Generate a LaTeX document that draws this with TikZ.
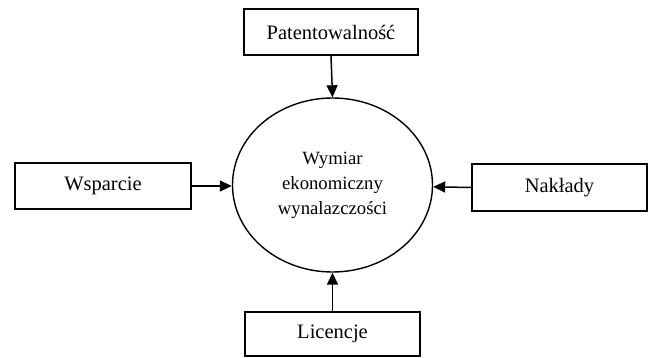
\documentclass[tikz,border=0pt]{standalone}
\usepackage{fontspec}
\setmainfont{Liberation Serif}
\usetikzlibrary{arrows.meta,shapes.geometric}
\begin{document}
\begin{tikzpicture}[x=1pt,y=-1pt,
  box/.style={draw,line width=1.4pt,font=\fontsize{20.5}{24}\selectfont,inner sep=0pt},
  conn/.style={line width=1.5pt,-{Triangle[length=12pt,width=11pt]}}]
\useasboundingbox (0,0) rectangle (650,358);
\node[box,minimum width=174pt,minimum height=46pt] (top) at (331,32) {Patentowalność};
\node[box,minimum width=176pt,minimum height=46pt] (left) at (103,186) {Wsparcie};
\node[box,minimum width=175pt,minimum height=47pt] (right) at (559.5,187.5) {Nakłady};
\node[box,minimum width=175pt,minimum height=44pt] (bottom) at (332.5,334) {Licencje};
\node[draw,ellipse,line width=1.4pt,minimum width=200pt,minimum height=174pt,inner sep=0pt,
  align=center,font=\fontsize{18.7}{25}\selectfont] (ell) at (332.5,185) {Wymiar\\ekonomiczny\\wynalazczości};
\draw[conn] (top.south) -- (ell.north);
\draw[conn] (left.east) -- (left.east -| ell.west);
\draw[conn] (right.west) -- (ell);
\draw[conn] (bottom.north) -- (ell.south);
\end{tikzpicture}
\end{document}
